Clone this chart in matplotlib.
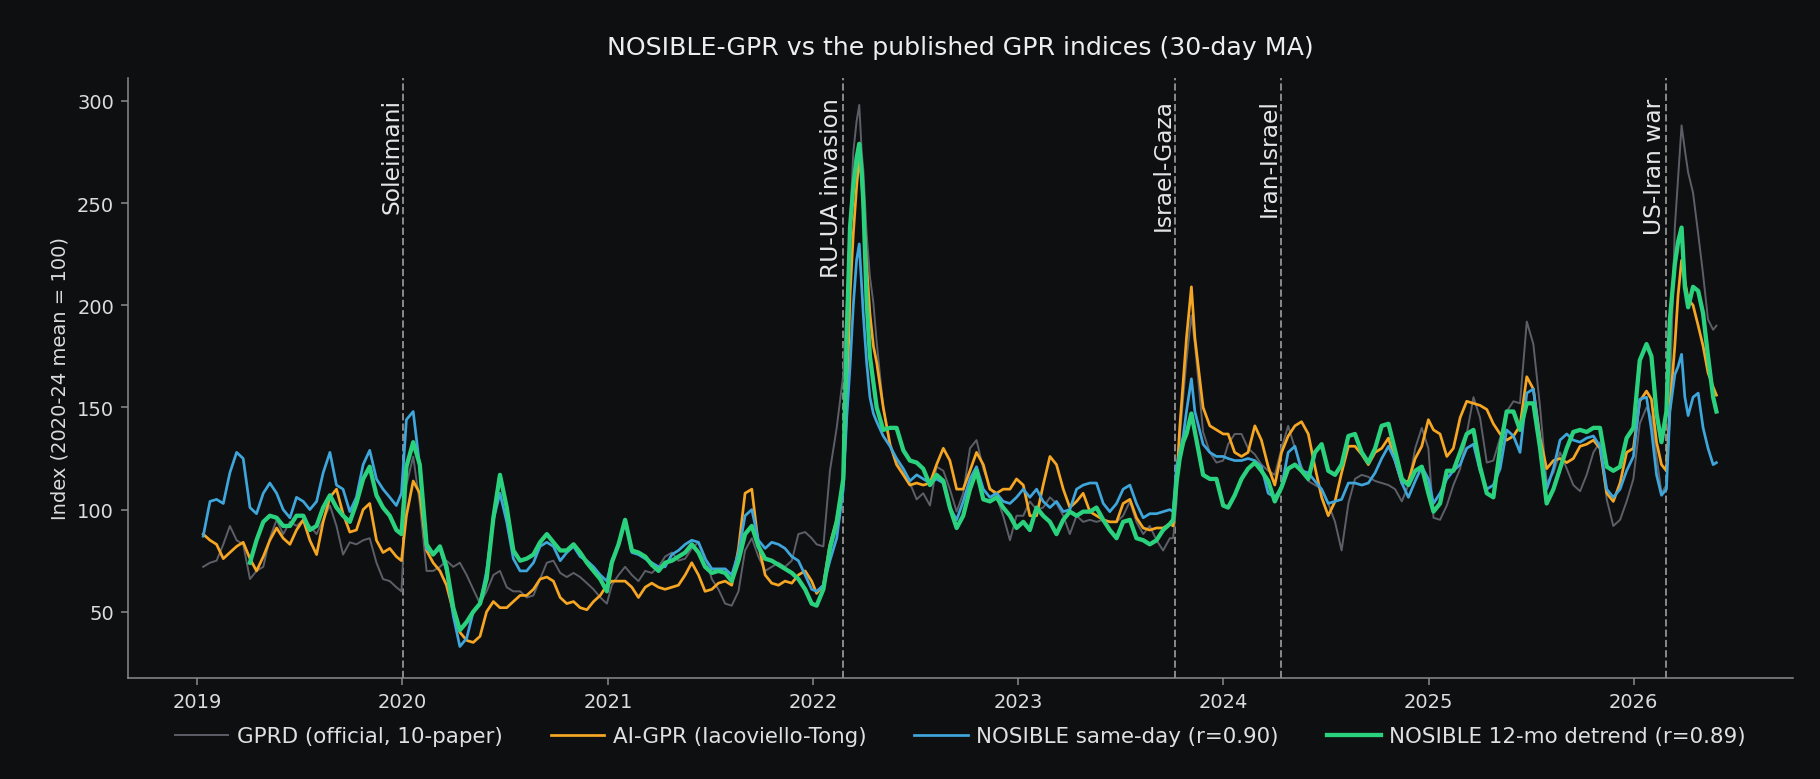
import numpy as np
import matplotlib
matplotlib.use("Agg")
import matplotlib.pyplot as plt
import matplotlib.dates as mdates
import matplotlib.transforms as mtransforms
from datetime import datetime

nan = np.nan

# sample times (decimal years) (30-day MA, 2020-24 mean = 100)
t = [
    2019.029, 2019.062, 2019.094, 2019.127, 2019.159, 2019.192, 2019.224, 2019.257, 2019.289, 2019.322, 2019.354,
    2019.387, 2019.419, 2019.452, 2019.484, 2019.517, 2019.549, 2019.582, 2019.614, 2019.647, 2019.679, 2019.711,
    2019.744, 2019.776, 2019.809, 2019.841, 2019.874, 2019.906, 2019.939, 2019.971, 2019.996,
    2020.020, 2020.053, 2020.085, 2020.118, 2020.150, 2020.183, 2020.215, 2020.248, 2020.280, 2020.313, 2020.345,
    2020.378, 2020.410, 2020.443, 2020.475, 2020.508, 2020.540, 2020.573, 2020.605, 2020.638, 2020.670, 2020.703,
    2020.735, 2020.768, 2020.800, 2020.833, 2020.865, 2020.898, 2020.930, 2020.963, 2020.995,
    2021.019, 2021.052, 2021.084, 2021.117, 2021.149, 2021.182, 2021.214, 2021.247, 2021.279, 2021.312, 2021.344,
    2021.377, 2021.409, 2021.442, 2021.474, 2021.507, 2021.539, 2021.572, 2021.604, 2021.637, 2021.669, 2021.702,
    2021.734, 2021.767, 2021.799, 2021.832, 2021.864, 2021.897, 2021.929, 2021.962, 2021.994,
    2022.018, 2022.051, 2022.083, 2022.116, 2022.148, 2022.165, 2022.181, 2022.197, 2022.213, 2022.226, 2022.238,
    2022.246, 2022.262, 2022.278, 2022.295, 2022.311, 2022.343, 2022.376, 2022.408, 2022.441, 2022.473, 2022.506,
    2022.538, 2022.571, 2022.603, 2022.636, 2022.668, 2022.701, 2022.733, 2022.766, 2022.798, 2022.831, 2022.863,
    2022.896, 2022.928, 2022.961, 2022.993,
    2023.026, 2023.058, 2023.091, 2023.123, 2023.156, 2023.188, 2023.221, 2023.253, 2023.286, 2023.318, 2023.351,
    2023.383, 2023.416, 2023.448, 2023.481, 2023.513, 2023.546, 2023.578, 2023.611, 2023.643, 2023.676, 2023.708,
    2023.741, 2023.757, 2023.773, 2023.789, 2023.806, 2023.822, 2023.846, 2023.863, 2023.903, 2023.936, 2023.968,
    2024.001,
    2024.025, 2024.057, 2024.090, 2024.122, 2024.155, 2024.187, 2024.220, 2024.252, 2024.285, 2024.317, 2024.350,
    2024.382, 2024.415, 2024.447, 2024.480, 2024.512, 2024.545, 2024.577, 2024.610, 2024.642, 2024.675, 2024.707,
    2024.740, 2024.772, 2024.805, 2024.837, 2024.870, 2024.902, 2024.935, 2024.967, 2024.999,
    2025.024, 2025.056, 2025.089, 2025.121, 2025.154, 2025.186, 2025.219, 2025.251, 2025.284, 2025.316, 2025.349,
    2025.381, 2025.414, 2025.446, 2025.479, 2025.511, 2025.544, 2025.576, 2025.609, 2025.641, 2025.674, 2025.706,
    2025.739, 2025.771, 2025.804, 2025.836, 2025.869, 2025.901, 2025.934, 2025.966, 2025.999,
    2026.030, 2026.063, 2026.087, 2026.112, 2026.136, 2026.160, 2026.177, 2026.201, 2026.217, 2026.234, 2026.250,
    2026.266, 2026.290, 2026.315, 2026.339, 2026.363, 2026.388, 2026.404,
]

gprd = [
    72, 74, 75, 83, 92, 85, 83, 66, 70, 72, 86, 95, 88, 94, 92, 95, 92, 88, 95, 102, 92, 78, 84, 83, 85, 86, 74, 66, 65, 62, 60,
    112, 126, 103, 70, 70, 72, 75, 72, 74, 68, 61, 54, 60, 68, 70, 62, 60, 60, 57, 58, 66, 74, 75, 69, 67, 69, 67, 64, 61, 57, 54,
    63, 68, 72, 68, 65, 70, 69, 72, 77, 79, 75, 76, 81, 84, 77, 66, 61, 54, 53, 60, 80, 86, 77, 70, 72, 74, 72, 75, 88, 89, 86,
    83, 82, 119, 140, 166, 200, 240, 275, 290, 298, 275, 266, 235, 214, 201, 182,
    150, 131, 123, 118, 113, 105, 108, 102, 121, 119, 110, 99, 108, 130, 134, 120, 111, 106, 97, 85, 97,
    97, 104, 100, 101, 106, 103, 97, 88, 97, 94, 95, 94, 95, 94, 94, 97, 104, 94, 88, 92, 85, 80, 86,
    86, 103, 135, 155, 173, 195, 181, 138, 128, 123, 124,
    132, 137, 137, 130, 127, 122, 119, 117, 130, 141, 130, 121, 114, 112, 110, 103, 94, 80, 103, 115, 117, 116, 114, 113, 112, 110, 104, 112, 130, 140, 130,
    96, 95, 102, 112, 120, 137, 155, 145, 123, 124, 135, 148, 153, 152, 192, 181, 150, 113, 118, 128, 120, 112, 109, 117, 128, 133, 105, 92, 95, 104, 115,
    142, 150, 145, 126, 108, 112, 155, 238, 262, 288, 276, 265, 255, 235, 215, 193, 188, 190,
]

ai_gpr = [
    88, 85, 83, 76, 79, 82, 84, 76, 70, 77, 85, 91, 86, 83, 90, 95, 85, 78, 94, 106, 110, 98, 89, 90, 100, 103, 85, 79, 81, 77, 75,
    97, 114, 108, 80, 74, 70, 63, 50, 40, 36, 35, 38, 50, 55, 52, 52, 55, 58, 58, 61, 66, 67, 65, 57, 54, 55, 52, 51, 55, 58, 63,
    65, 65, 65, 62, 57, 62, 64, 62, 61, 62, 63, 68, 74, 68, 60, 61, 64, 65, 63, 81, 108, 110, 83, 68, 64, 63, 65, 64, 68, 70, 65,
    59, 63, 83, 95, 113, 150, 205, 235, 258, 272, 262, 247, 220, 196, 180, 172,
    150, 132, 122, 117, 112, 113, 112, 113, 122, 130, 124, 110, 110, 119, 128, 122, 110, 108, 110, 110, 115,
    112, 97, 97, 112, 126, 122, 110, 101, 104, 108, 99, 97, 95, 94, 94, 103, 105, 96, 91, 90, 91, 91, 93,
    92, 112, 140, 163, 184, 209, 184, 150, 141, 139, 137,
    137, 128, 126, 128, 141, 134, 121, 112, 128, 136, 141, 143, 137, 121, 106, 97, 104, 118, 131, 131, 127, 122, 128, 130, 135, 124, 113, 114, 125, 131, 144,
    139, 137, 126, 130, 145, 153, 152, 151, 149, 142, 137, 134, 136, 141, 165, 159, 135, 120, 124, 125, 123, 125, 131, 132, 134, 130, 108, 104, 113, 128, 130,
    153, 158, 154, 133, 122, 119, 150, 180, 205, 222, 212, 203, 200, 190, 180, 167, 160, 156,
]

nosible_same = [
    87, 104, 105, 103, 118, 128, 125, 101, 98, 108, 113, 108, 100, 96, 106, 104, 100, 104, 118, 128, 112, 110, 99, 106, 122, 129, 115, 110, 106, 102, 108,
    144, 148, 121, 81, 78, 81, 70, 48, 33, 37, 50, 54, 70, 95, 108, 94, 76, 70, 70, 74, 82, 84, 82, 75, 79, 82, 77, 75, 72, 68, 65,
    75, 83, 95, 79, 78, 76, 74, 72, 72, 78, 80, 83, 85, 84, 76, 71, 71, 71, 68, 79, 97, 100, 85, 81, 84, 83, 81, 77, 75, 68, 61,
    60, 63, 75, 86, 110, 145, 170, 200, 222, 230, 209, 195, 172, 155, 147, 143,
    136, 131, 125, 120, 114, 117, 115, 113, 115, 113, 101, 95, 104, 115, 121, 110, 106, 108, 104, 103, 106,
    110, 106, 110, 104, 101, 104, 99, 100, 110, 112, 113, 113, 103, 99, 103, 110, 112, 103, 96, 98, 98, 99, 100,
    99, 121, 128, 136, 148, 164, 148, 132, 128, 126, 126,
    125, 124, 124, 125, 124, 121, 108, 106, 111, 128, 131, 119, 118, 114, 110, 103, 104, 105, 113, 113, 112, 113, 118, 125, 131, 124, 113, 106, 114, 121, 115,
    103, 108, 115, 119, 122, 130, 132, 119, 110, 112, 120, 139, 136, 128, 157, 159, 133, 110, 120, 134, 137, 134, 133, 135, 136, 131, 110, 106, 110, 119, 126,
    154, 155, 139, 117, 107, 110, 148, 166, 170, 176, 155, 146, 155, 157, 140, 130, 122, 123,
]

nosible_detrend = [
    nan, nan, nan, nan, nan, nan, nan, 74, 85, 94, 97, 96, 92, 92, 97, 97, 90, 92, 101, 107, 101, 97, 94, 103, 115, 121, 107, 101, 97, 90, 88,
    121, 133, 122, 83, 78, 82, 72, 52, 41, 45, 50, 54, 66, 96, 117, 101, 80, 75, 76, 78, 84, 88, 84, 80, 80, 83, 79, 74, 70, 66, 60,
    74, 83, 95, 80, 79, 77, 73, 70, 74, 75, 77, 79, 83, 79, 72, 69, 70, 69, 65, 75, 88, 92, 82, 76, 75, 73, 71, 69, 66, 61, 54,
    53, 61, 81, 94, 115, 185, 238, 258, 272, 279, 265, 250, 202, 175, 162, 150,
    139, 140, 140, 129, 124, 123, 120, 112, 117, 114, 101, 91, 97, 110, 119, 105, 104, 106, 101, 97, 91,
    94, 90, 101, 97, 94, 88, 95, 99, 97, 99, 99, 101, 95, 90, 86, 94, 95, 86, 85, 83, 85, 90, 93,
    95, 113, 125, 133, 137, 147, 138, 117, 115, 115, 102,
    101, 107, 115, 120, 123, 119, 114, 104, 111, 120, 122, 119, 115, 128, 132, 119, 117, 122, 136, 137, 128, 123, 130, 141, 142, 129, 115, 112, 119, 121, 108,
    99, 103, 119, 119, 128, 137, 139, 121, 108, 106, 130, 148, 148, 139, 152, 152, 130, 103, 110, 120, 130, 138, 139, 138, 140, 140, 121, 119, 121, 135, 140,
    173, 181, 175, 147, 133, 148, 193, 220, 231, 238, 209, 199, 209, 207, 196, 175, 155, 148,
]

event_dates = ["2020-01-03", "2022-02-24", "2023-10-07", "2024-04-13", "2026-02-28"]
event_labels = ["Soleimani", "RU-UA invasion", "Israel-Gaza", "Iran-Israel", "US-Iran war"]


def to_date(y):
    yr = int(y)
    a = datetime(yr, 1, 1)
    b = datetime(yr + 1, 1, 1)
    return a + (b - a) * (y - yr)


dates = [to_date(v) for v in t]

BG = "#0e0f11"
fig = plt.figure(figsize=(13, 5.5714), dpi=140, facecolor=BG)
ax = fig.add_axes([0.0702, 0.1295, 0.9148, 0.7695])
ax.set_facecolor(BG)

ax.plot(dates, gprd, color="#5c5f67", lw=1.0, label="GPRD (official, 10-paper)", zorder=2)
ax.plot(dates, ai_gpr, color="#f5a623", lw=1.4, label="AI-GPR (Iacoviello-Tong)", zorder=3)
ax.plot(dates, nosible_same, color="#3ea6da", lw=1.4, label="NOSIBLE same-day (r=0.90)", zorder=4)
ax.plot(dates, nosible_detrend, color="#2bd27e", lw=2.2, label="NOSIBLE 12-mo detrend (r=0.89)", zorder=5)

# event markers
trans = mtransforms.blended_transform_factory(ax.transData, ax.transAxes)
for d, lab in zip(event_dates, event_labels):
    x = mdates.date2num(datetime.strptime(d, "%Y-%m-%d"))
    ax.axvline(x, color="#8a8a8a", lw=1.0, ls="--", zorder=1)
    ax.text(x, 0.967, lab, transform=trans, rotation=90, ha="right", va="top",
            fontsize=12, color="#e6e6e6")

ax.set_ylim(17.6, 311.3)
ax.set_xlim(to_date(2018.661), to_date(2026.776))
ax.set_yticks([50, 100, 150, 200, 250, 300])
ax.xaxis.set_major_locator(mdates.YearLocator())
ax.xaxis.set_major_formatter(mdates.DateFormatter("%Y"))

for s in ["top", "right"]:
    ax.spines[s].set_visible(False)
for s in ["left", "bottom"]:
    ax.spines[s].set_color("#8a8a8a")
ax.tick_params(colors="#8a8a8a", labelcolor="#dcdcdc", labelsize=10)

ax.set_ylabel("Index (2020-24 mean = 100)", color="#dcdcdc", fontsize=10)
ax.set_title("NOSIBLE-GPR vs the published GPR indices (30-day MA)", color="#eeeeee", fontsize=13, pad=12)

leg = ax.legend(loc="center", bbox_to_anchor=(0.5, -0.097), ncol=4, frameon=False, fontsize=11,
                handlelength=2.5, handletextpad=0.4, columnspacing=2.25)
for txt in leg.get_texts():
    txt.set_color("#e0e0e0")

fig.savefig("out.png", dpi=140, facecolor=BG)
